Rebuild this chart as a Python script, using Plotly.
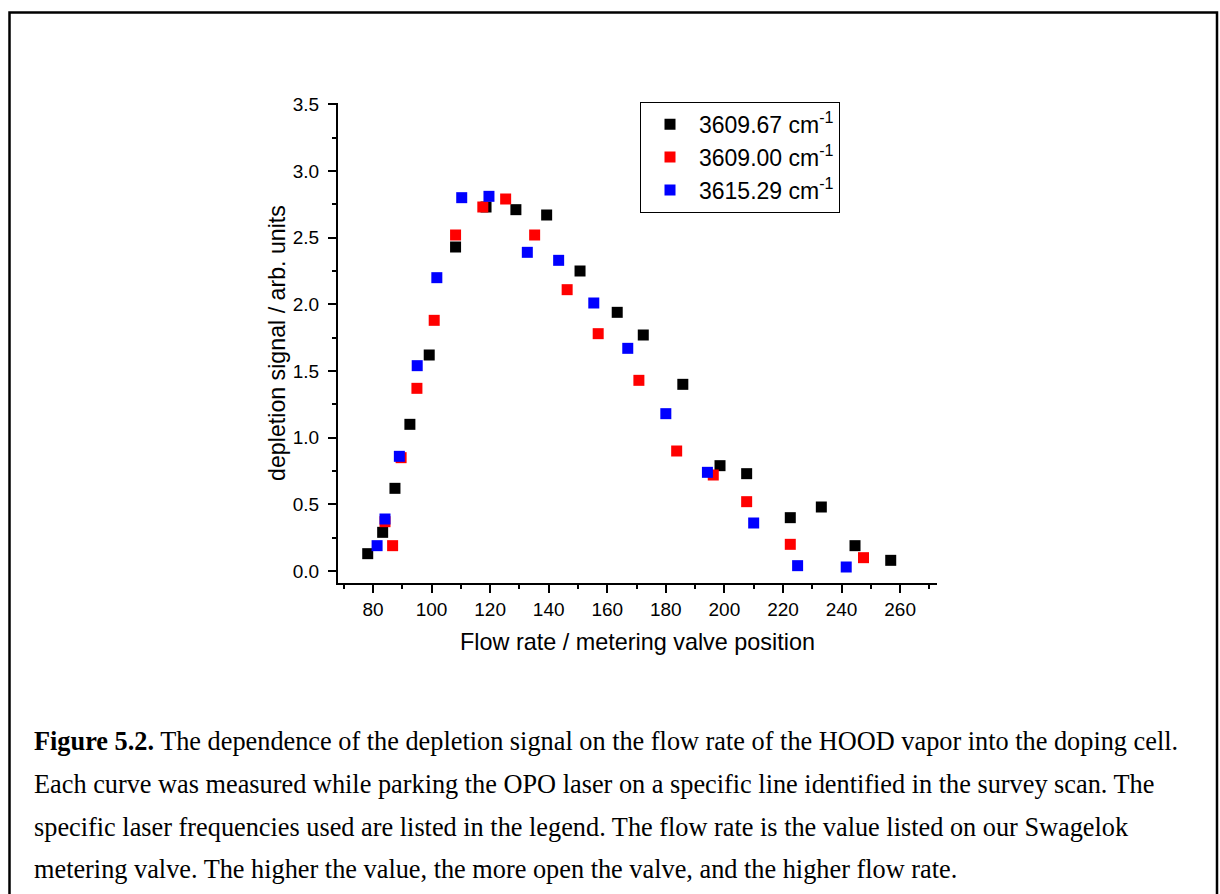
import plotly.graph_objects as go

# ---- data ----
black_x = [78.2, 83.3, 87.5, 92.6, 99.2, 108.2, 118.6, 128.8, 139.3, 150.7, 163.4, 172.3, 185.8, 198.5, 207.6, 222.5, 233.1, 244.6, 256.8]
black_y = [0.13, 0.29, 0.62, 1.10, 1.62, 2.43, 2.73, 2.71, 2.67, 2.25, 1.94, 1.77, 1.40, 0.79, 0.73, 0.40, 0.48, 0.19, 0.08]

red_x = [84.1, 86.7, 89.6, 95.0, 100.9, 108.2, 117.5, 125.3, 135.2, 146.3, 156.9, 170.8, 183.7, 196.2, 207.6, 222.5, 247.5]
red_y = [0.37, 0.19, 0.85, 1.37, 1.88, 2.52, 2.73, 2.79, 2.52, 2.11, 1.78, 1.43, 0.90, 0.72, 0.52, 0.20, 0.10]

blue_x = [81.4, 84.1, 89.0, 95.1, 101.8, 110.3, 119.6, 132.7, 143.4, 155.4, 167.0, 180.0, 194.2, 210.0, 225.0, 241.6]
blue_y = [0.19, 0.39, 0.86, 1.54, 2.20, 2.80, 2.81, 2.39, 2.33, 2.01, 1.67, 1.18, 0.74, 0.36, 0.04, 0.03]

series_names = ["3609.67 cm<sup>-1</sup>", "3609.00 cm<sup>-1</sup>", "3615.29 cm<sup>-1</sup>"]
series_colors = ["#000000", "#ff0000", "#0000ff"]

x_title = "Flow rate / metering valve position"
y_title = "depletion signal / arb. units"

caption_lines = [
    "<b>Figure 5.2.</b> The dependence of the depletion signal on the flow rate of the HOOD vapor into the doping cell.",
    "Each curve was measured while parking the OPO laser on a specific line identified in the survey scan. The",
    "specific laser frequencies used are listed in the legend. The flow rate is the value listed on our Swagelok",
    "metering valve. The higher the value, the more open the valve, and the higher flow rate.",
]
caption_y_px = [741, 784, 827, 869]

# ---- layout geometry (pixels) ----
W, H = 1220, 894
L, R, T, B = 338, 937, 103, 583
pw, ph = R - L, B - T

def px_x(p):
    return (p - L) / pw

def px_y(p):
    return (B - p) / ph

fig = go.Figure()
for xs, ys, name, col in zip([black_x, red_x, blue_x], [black_y, red_y, blue_y], series_names, series_colors):
    fig.add_trace(go.Scatter(
        x=xs, y=ys, mode="markers", name=name,
        marker=dict(symbol="square", size=11, color=col, line=dict(width=0)),
    ))

sans = "Arial, Liberation Sans, sans-serif"
serif = "Times New Roman, Liberation Serif, serif"

fig.update_layout(
    width=W, height=H,
    margin=dict(l=L, r=W - R, t=T, b=H - B, pad=0),
    paper_bgcolor="white", plot_bgcolor="white",
    font=dict(family=sans, color="black", size=19),
    showlegend=True,
    legend=dict(
        x=px_x(640), y=px_y(101.7), xanchor="left", yanchor="top",
        bordercolor="black", borderwidth=1, bgcolor="white",
        font=dict(family=sans, size=23, color="black"),
        itemwidth=48,
    ),
    xaxis=dict(
        range=[68.05, 272.6], showgrid=False, zeroline=False,
        showline=True, linecolor="black", linewidth=2, mirror=False,
        ticks="outside", ticklen=8, tickwidth=2, tickcolor="black",
        tick0=0, dtick=20,
        minor=dict(dtick=10, ticks="outside", ticklen=4, tickwidth=2, tickcolor="black"),
        tickfont=dict(family=sans, size=19, color="black"),
        title=dict(text=x_title, font=dict(family=sans, size=23.4, color="black"), standoff=15),
    ),
    yaxis=dict(
        range=[-0.09, 3.51], showgrid=False, zeroline=False,
        showline=True, linecolor="black", linewidth=2, mirror=False,
        ticks="outside", ticklen=8, tickwidth=2, tickcolor="black",
        tick0=0, dtick=0.5, tickformat=".1f", ticklabelstandoff=5,
        minor=dict(dtick=0.25, ticks="outside", ticklen=4, tickwidth=2, tickcolor="black"),
        tickfont=dict(family=sans, size=19, color="black"),
        title=dict(text=y_title, font=dict(family=sans, size=23.2, color="black"), standoff=1),
    ),
)

# outer frame of the figure page
fig.add_shape(type="rect", xref="paper", yref="paper",
              x0=px_x(9.5), x1=px_x(1217), y0=px_y(905), y1=px_y(12.5),
              line=dict(color="black", width=2.5), fillcolor="rgba(0,0,0,0)", layer="above")

for line, ypx in zip(caption_lines, caption_y_px):
    fig.add_annotation(
        x=px_x(32), y=px_y(ypx), xref="paper", yref="paper",
        xanchor="left", yanchor="middle", showarrow=False, align="left",
        text=line, font=dict(family=serif, size=26.3, color="black"),
    )

fig.write_html("out.html")
